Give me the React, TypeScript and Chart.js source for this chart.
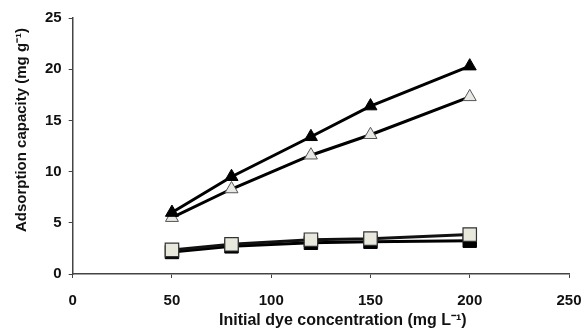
import React, { useEffect, useRef } from "react";
import { Chart, registerables } from "chart.js";
Chart.register(...registerables);

const concentrations = [50, 80, 120, 150, 200];
const blackTriangle = [6.0, 9.5, 13.4, 16.4, 20.3];
const openTriangle = [5.5, 8.3, 11.6, 13.6, 17.3];
const openSquare = [2.35, 2.9, 3.35, 3.45, 3.85];
const blackSquare = [2.15, 2.7, 3.05, 3.15, 3.25];

const xTitle = "Initial dye concentration (mg L\u207B\u00B9)";
const yTitle = "Adsorption capacity (mg g\u207B\u00B9)";

const toPts = (ys: number[]) => concentrations.map((x, i) => ({ x, y: ys[i] }));
const FAMILY = "'Liberation Sans', Arial, sans-serif";

const titlesPlugin = {
  id: "axisTitles",
  afterDraw(chart: any) {
    const { ctx, chartArea } = chart;
    ctx.save();
    ctx.fillStyle = "#111";
    ctx.textAlign = "center";
    ctx.textBaseline = "middle";
    ctx.font = `bold 16px ${FAMILY}`;
    ctx.fillText(xTitle, (chartArea.left + chartArea.right) / 2 + 22, chartArea.bottom + 47);
    ctx.translate(22, (chartArea.top + chartArea.bottom) / 2 - 16);
    ctx.rotate(-Math.PI / 2);
    ctx.font = `bold 15px ${FAMILY}`;
    ctx.fillText(yTitle, 0, 0);
    ctx.restore();
  },
};

export default function App() {
  const ref = useRef<HTMLCanvasElement>(null);
  useEffect(() => {
    document.body.style.margin = "0";
    const font = { family: FAMILY, size: 15, weight: "bold" as const };
    const chart = new Chart(ref.current!, {
      type: "line",
      data: {
        datasets: [
          { data: toPts(blackTriangle), borderColor: "#000", borderWidth: 3, pointStyle: "triangle", pointRadius: 7.5, pointBackgroundColor: "#000", pointBorderColor: "#000", pointBorderWidth: 1 },
          { data: toPts(openTriangle), borderColor: "#000", borderWidth: 3, pointStyle: "triangle", pointRadius: 7.5, pointBackgroundColor: "#e8e8e4", pointBorderColor: "#555", pointBorderWidth: 1 },
          { data: toPts(openSquare), borderColor: "#111", borderWidth: 3, pointStyle: "rect", pointRadius: 9.5, pointBackgroundColor: "#e8e8dc", pointBorderColor: "#333", pointBorderWidth: 1.2 },
          { data: toPts(blackSquare), borderColor: "#000", borderWidth: 3, pointStyle: "rect", pointRadius: 9.5, pointBackgroundColor: "#000", pointBorderColor: "#000", pointBorderWidth: 1 },
        ],
      },
      options: {
        animation: false,
        responsive: false,
        layout: { padding: { left: 38, right: 0, top: 18, bottom: 10 } },
        plugins: { legend: { display: false }, tooltip: { enabled: false } },
        scales: {
          x: {
            type: "linear",
            min: 0,
            max: 250,
            ticks: { stepSize: 50, color: "#111", font, padding: 14 },
            grid: { drawOnChartArea: false, drawTicks: true, tickLength: 4, color: "#444" },
            border: { color: "#444", width: 1.5 },
            afterFit: (scale: any) => {
              scale.paddingRight = 13;
              scale.paddingLeft = 5;
            },
          },
          y: {
            min: 0,
            max: 25,
            ticks: { stepSize: 5, color: "#111", font, padding: 7 },
            grid: { drawOnChartArea: false, drawTicks: true, tickLength: 4, color: "#444" },
            border: { color: "#444", width: 1.5 },
          },
        },
      },
      plugins: [titlesPlugin],
    });
    return () => chart.destroy();
  }, []);
  return <canvas ref={ref} width={582} height={334} style={{ display: "block" }} />;
}
